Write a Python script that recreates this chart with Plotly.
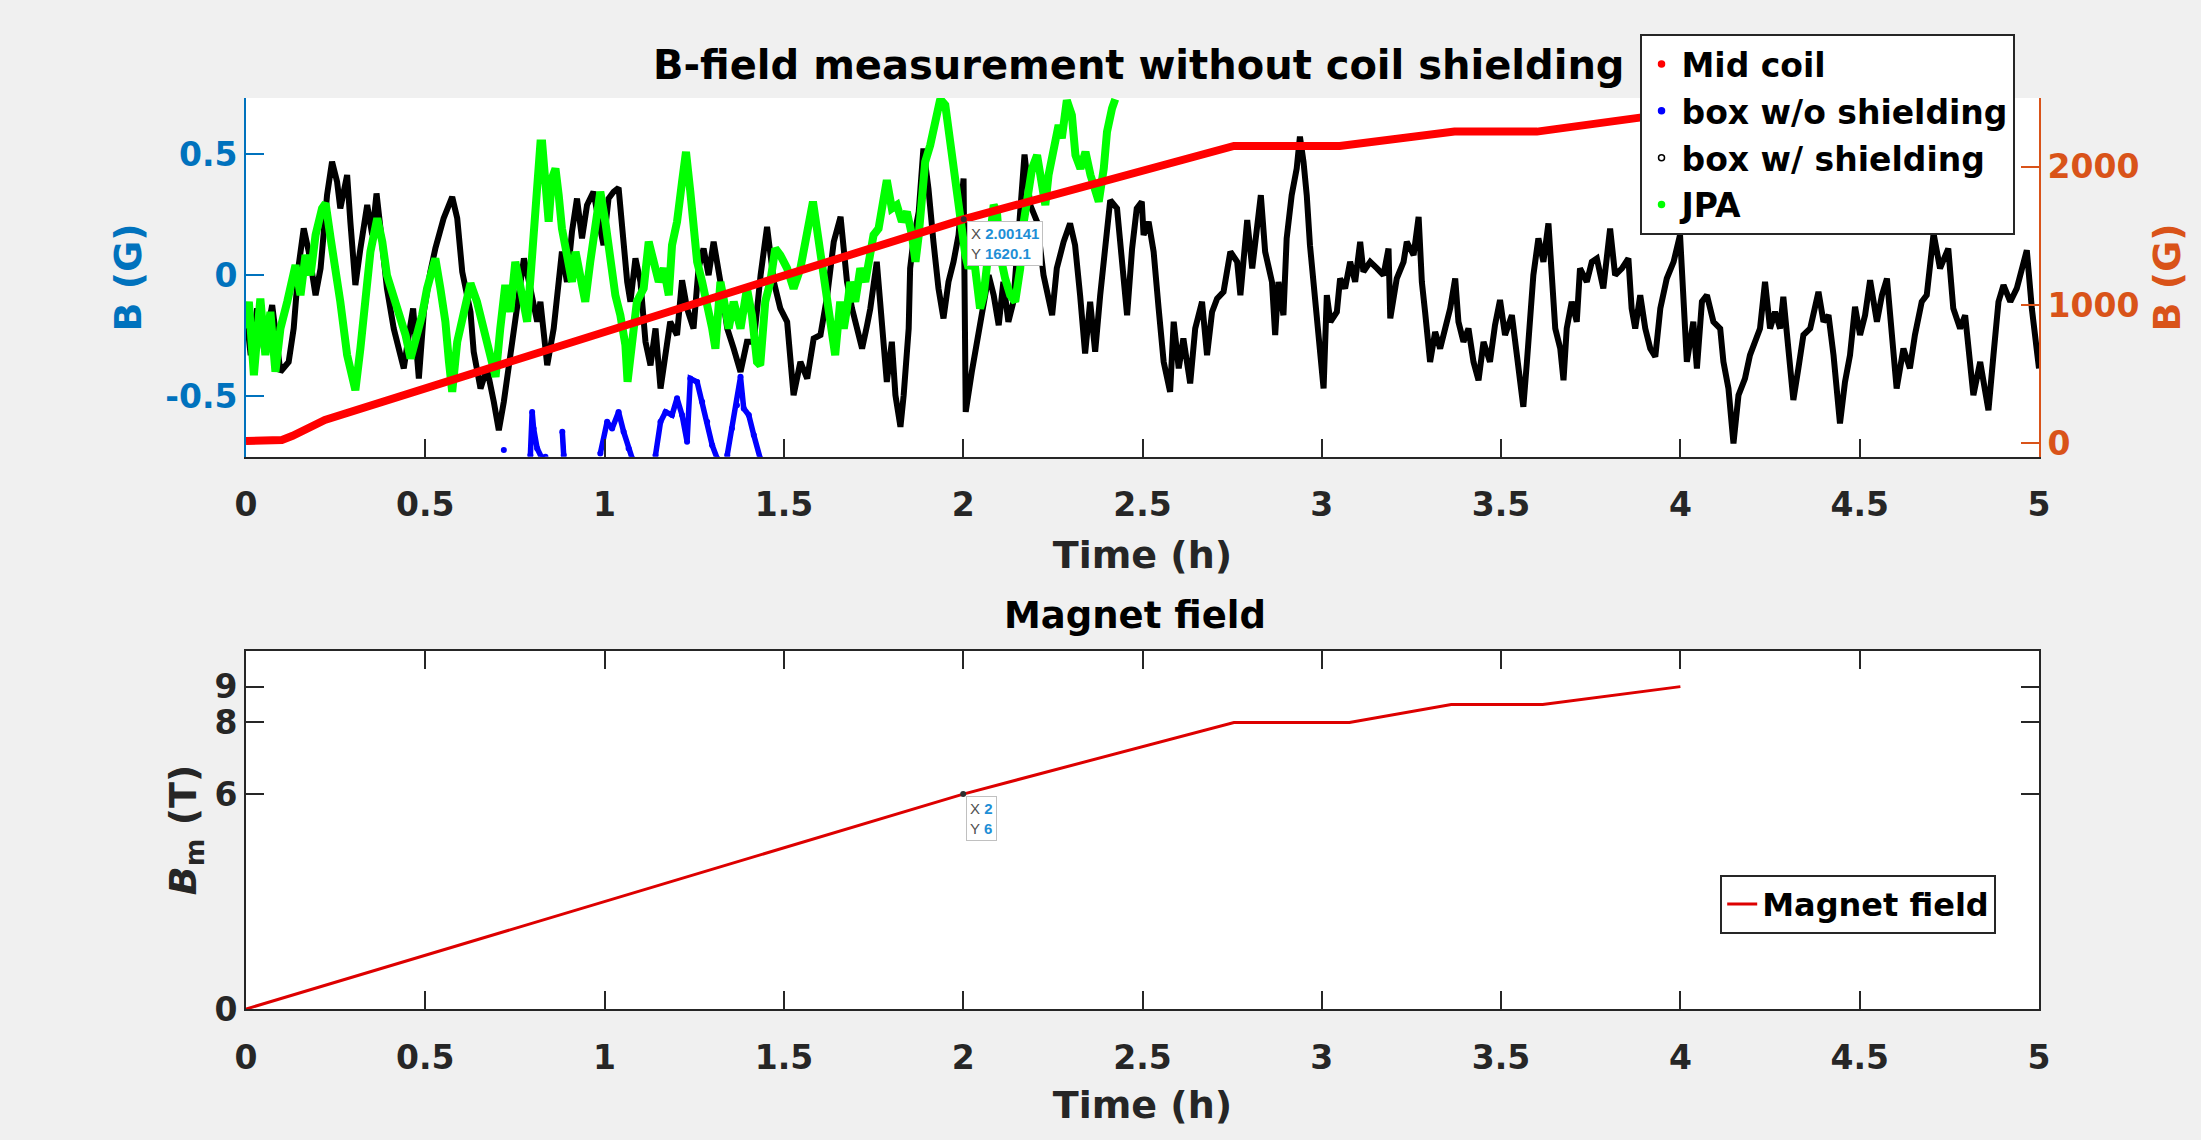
import plotly.graph_objects as go

# ---------------- data ----------------
# Time axis in hours, B in gauss (left axis), Mid coil in gauss (right axis)
black_t = [0.000, 0.013, 0.031, 0.050, 0.073, 0.096, 0.119, 0.133, 0.147, 0.161, 0.175, 0.194, 0.208, 0.226, 0.240,
           0.254, 0.263, 0.282, 0.291, 0.305, 0.319, 0.338, 0.352, 0.364, 0.375, 0.393, 0.412, 0.440, 0.454, 0.466,
           0.482, 0.496, 0.514, 0.528, 0.551, 0.575, 0.589, 0.603, 0.626, 0.635, 0.654, 0.672, 0.691, 0.705, 0.719,
           0.737, 0.756, 0.775, 0.793, 0.812, 0.821, 0.840, 0.858, 0.872, 0.881, 0.895, 0.909, 0.923, 0.937, 0.951,
           0.969, 0.984, 0.997, 1.011, 1.025, 1.039, 1.053, 1.063, 1.072, 1.086, 1.100, 1.114, 1.128, 1.142, 1.156,
           1.170, 1.183, 1.202, 1.216, 1.230, 1.248, 1.262, 1.276, 1.290, 1.304, 1.323, 1.342, 1.360, 1.379, 1.397,
           1.416, 1.435, 1.453, 1.472, 1.490, 1.509, 1.527, 1.546, 1.565, 1.583, 1.602, 1.621, 1.639, 1.658, 1.667,
           1.676, 1.690, 1.704, 1.718, 1.732, 1.741, 1.759, 1.773, 1.787, 1.801, 1.811, 1.825, 1.834, 1.848, 1.852,
           1.862, 1.876, 1.889, 1.903, 1.917, 1.931, 1.945, 1.959, 1.973, 1.987, 2.001, 2.007, 2.024, 2.043, 2.057,
           2.071, 2.085, 2.099, 2.112, 2.126, 2.140, 2.155, 2.171, 2.187, 2.206, 2.224, 2.238, 2.248, 2.261, 2.280,
           2.298, 2.312, 2.326, 2.340, 2.354, 2.368, 2.382, 2.396, 2.410, 2.429, 2.443, 2.457, 2.471, 2.484, 2.498,
           2.503, 2.517, 2.531, 2.545, 2.559, 2.577, 2.587, 2.601, 2.614, 2.633, 2.647, 2.666, 2.680, 2.694, 2.708,
           2.726, 2.745, 2.764, 2.773, 2.792, 2.806, 2.830, 2.842, 2.861, 2.870, 2.879, 2.893, 2.902, 2.916, 2.930,
           2.939, 2.949, 2.958, 2.967, 2.986, 3.000, 3.005, 3.014, 3.024, 3.042, 3.051, 3.065, 3.079, 3.093, 3.107,
           3.116, 3.135, 3.154, 3.172, 3.186, 3.191, 3.209, 3.228, 3.237, 3.256, 3.270, 3.279, 3.288, 3.302, 3.316,
           3.330, 3.344, 3.358, 3.372, 3.381, 3.395, 3.409, 3.423, 3.437, 3.451, 3.469, 3.483, 3.497, 3.511, 3.530,
           3.544, 3.562, 3.572, 3.581, 3.590, 3.604, 3.618, 3.632, 3.642, 3.651, 3.665, 3.674, 3.683, 3.697, 3.711,
           3.720, 3.739, 3.753, 3.767, 3.785, 3.804, 3.818, 3.837, 3.855, 3.864, 3.874, 3.888, 3.902, 3.916, 3.930,
           3.944, 3.962, 3.981, 3.999, 4.018, 4.036, 4.046, 4.060, 4.074, 4.092, 4.111, 4.120, 4.134, 4.148, 4.162,
           4.180, 4.194, 4.208, 4.222, 4.236, 4.250, 4.264, 4.278, 4.287, 4.301, 4.315, 4.329, 4.343, 4.362, 4.385,
           4.399, 4.413, 4.427, 4.445, 4.459, 4.473, 4.487, 4.501, 4.515, 4.529, 4.548, 4.562, 4.576, 4.589, 4.603,
           4.622, 4.640, 4.654, 4.673, 4.687, 4.706, 4.724, 4.747, 4.761, 4.780, 4.794, 4.817, 4.836, 4.859, 4.873,
           4.887, 4.901, 4.920, 4.938, 4.966, 4.980, 4.994, 5.000]
black_v = [-0.152, -0.331, -0.138, -0.304, -0.124, -0.400, -0.359, -0.221, 0.041, 0.193, 0.097, -0.083, 0.028, 0.331, 0.469,
           0.386, 0.276, 0.414, 0.221, -0.041, 0.110, 0.290, 0.166, 0.338, 0.193, -0.055, -0.221, -0.386, -0.248, -0.138,
           -0.428, -0.152, 0.014, 0.110, 0.235, 0.324, 0.235, 0.014, -0.152, -0.317, -0.469, -0.386, -0.524, -0.642, -0.524,
           -0.331, -0.138, 0.069, -0.055, -0.193, -0.110, -0.373, -0.221, -0.028, 0.097, -0.028, 0.179, 0.317, 0.152, 0.290,
           0.345, 0.221, 0.124, 0.317, 0.345, 0.361, 0.124, -0.028, -0.110, 0.069, -0.028, -0.276, -0.373, -0.221, -0.469,
           -0.317, -0.193, -0.248, -0.021, -0.138, -0.221, 0.028, 0.110, 0.000, 0.138, -0.028, -0.221, -0.304, -0.400, -0.276,
           -0.276, 0.000, 0.200, -0.028, -0.138, -0.193, -0.497, -0.359, -0.428, -0.262, -0.248, -0.083, 0.138, 0.241, 0.110,
           -0.028, -0.138, -0.221, -0.304, -0.207, -0.138, 0.055, -0.221, -0.442, -0.276, -0.497, -0.628, -0.497, -0.221, 0.028,
           0.152, 0.262, 0.524, 0.359, 0.138, -0.055, -0.179, -0.028, 0.055, 0.166, 0.400, -0.566, -0.400, -0.248, -0.110,
           0.000, -0.083, -0.207, -0.028, -0.193, -0.110, 0.166, 0.499, 0.290, 0.221, 0.000, -0.083, -0.166, 0.028, 0.138,
           0.214, 0.124, -0.083, -0.324, -0.110, -0.317, -0.083, 0.138, 0.310, 0.276, 0.055, -0.166, 0.110, 0.276, 0.304,
           0.166, 0.221, 0.097, -0.138, -0.359, -0.483, -0.193, -0.386, -0.262, -0.448, -0.221, -0.110, -0.331, -0.152, -0.097,
           -0.069, 0.097, 0.055, -0.083, 0.228, 0.028, 0.331, 0.097, -0.028, -0.248, -0.028, -0.166, 0.152, 0.331, 0.441,
           0.573, 0.469, 0.331, 0.124, -0.152, -0.373, -0.469, -0.083, -0.193, -0.152, -0.014, -0.055, 0.055, -0.028, 0.138,
           0.014, 0.055, 0.028, 0.000, 0.110, -0.179, -0.014, 0.055, 0.138, 0.083, 0.241, -0.028, -0.152, -0.359, -0.235,
           -0.304, -0.221, -0.138, -0.014, -0.193, -0.276, -0.221, -0.359, -0.435, -0.276, -0.359, -0.207, -0.103, -0.248, -0.166,
           -0.331, -0.545, -0.359, -0.138, 0.000, 0.152, 0.055, 0.214, -0.055, -0.221, -0.304, -0.435, -0.221, -0.110, -0.193,
           0.028, -0.028, 0.055, 0.069, -0.055, 0.193, 0.000, 0.028, 0.069, -0.138, -0.221, -0.083, -0.221, -0.304, -0.338,
           -0.138, -0.014, 0.055, 0.166, -0.359, -0.193, -0.386, -0.110, -0.083, -0.193, -0.221, -0.359, -0.469, -0.697, -0.497,
           -0.428, -0.331, -0.276, -0.221, -0.028, -0.221, -0.152, -0.221, -0.090, -0.304, -0.517, -0.386, -0.248, -0.221, -0.069,
           -0.193, -0.166, -0.331, -0.614, -0.442, -0.331, -0.131, -0.248, -0.166, -0.021, -0.193, -0.083, -0.014, -0.221, -0.469,
           -0.304, -0.386, -0.248, -0.110, -0.083, 0.172, 0.028, 0.110, -0.138, -0.221, -0.166, -0.497, -0.359, -0.559, -0.331,
           -0.110, -0.041, -0.110, -0.055, 0.103, -0.138, -0.304, -0.386]

green_t = [0.000, 0.008, 0.022, 0.040, 0.054, 0.068, 0.082, 0.096, 0.115, 0.129, 0.138, 0.152, 0.166, 0.180, 0.194,
           0.212, 0.222, 0.236, 0.250, 0.263, 0.282, 0.296, 0.305, 0.319, 0.333, 0.347, 0.366, 0.380, 0.393, 0.412,
           0.426, 0.445, 0.459, 0.477, 0.491, 0.505, 0.519, 0.528, 0.542, 0.556, 0.566, 0.575, 0.589, 0.607, 0.626,
           0.644, 0.663, 0.682, 0.696, 0.709, 0.723, 0.737, 0.751, 0.770, 0.784, 0.798, 0.807, 0.821, 0.826, 0.835,
           0.844, 0.853, 0.863, 0.872, 0.881, 0.895, 0.909, 0.919, 0.933, 0.946, 0.960, 0.974, 0.988, 1.002, 1.016,
           1.030, 1.044, 1.058, 1.064, 1.077, 1.090, 1.109, 1.123, 1.137, 1.151, 1.165, 1.179, 1.188, 1.202, 1.216,
           1.227, 1.239, 1.248, 1.258, 1.272, 1.286, 1.300, 1.309, 1.323, 1.337, 1.346, 1.360, 1.379, 1.397, 1.411,
           1.425, 1.434, 1.448, 1.462, 1.476, 1.490, 1.509, 1.527, 1.546, 1.560, 1.574, 1.581, 1.592, 1.606, 1.620,
           1.634, 1.643, 1.657, 1.667, 1.676, 1.685, 1.699, 1.713, 1.727, 1.741, 1.750, 1.764, 1.774, 1.787, 1.801,
           1.815, 1.829, 1.843, 1.857, 1.867, 1.876, 1.885, 1.894, 1.908, 1.922, 1.936, 1.950, 1.959, 1.973, 1.987,
           1.997, 2.006, 2.015, 2.029, 2.038, 2.047, 2.057, 2.071, 2.085, 2.094, 2.103, 2.117, 2.131, 2.145, 2.159,
           2.169, 2.178, 2.192, 2.206, 2.220, 2.229, 2.238, 2.252, 2.266, 2.275, 2.289, 2.303, 2.313, 2.327, 2.341,
           2.355, 2.369, 2.378, 2.392, 2.401, 2.415, 2.424]
green_v = [-0.221, -0.110, -0.414, -0.097, -0.331, -0.152, -0.400, -0.221, -0.110, -0.028, 0.041, -0.083, 0.083, 0.000, 0.166,
           0.276, 0.297, 0.152, 0.028, -0.110, -0.331, -0.428, -0.476, -0.304, -0.083, 0.097, 0.235, 0.138, 0.000, -0.083,
           -0.166, -0.248, -0.345, -0.248, -0.166, -0.055, 0.041, 0.069, -0.055, -0.193, -0.359, -0.483, -0.276, -0.152, -0.034,
           -0.110, -0.221, -0.359, -0.421, -0.221, -0.041, -0.152, 0.055, -0.083, -0.193, 0.083, 0.290, 0.545, 0.545, 0.359,
           0.221, 0.400, 0.441, 0.331, 0.193, 0.083, -0.028, 0.097, 0.000, -0.110, 0.055, 0.193, 0.345, 0.221, 0.055,
           -0.083, -0.166, -0.290, -0.441, -0.248, -0.110, -0.055, 0.138, 0.055, -0.028, 0.028, -0.083, 0.124, 0.221, 0.386,
           0.510, 0.345, 0.166, 0.055, -0.028, -0.110, -0.221, -0.304, -0.028, -0.138, -0.221, -0.110, -0.221, -0.055, -0.166,
           -0.359, -0.373, -0.110, -0.028, 0.110, 0.083, 0.028, -0.055, 0.028, 0.138, 0.262, 0.304, 0.193, 0.055, -0.083,
           -0.221, -0.331, -0.110, -0.221, -0.138, -0.028, -0.110, 0.028, -0.028, 0.083, 0.166, 0.193, 0.290, 0.393, 0.276,
           0.290, 0.221, 0.262, 0.166, 0.055, 0.166, 0.331, 0.469, 0.538, 0.635, 0.728, 0.704, 0.593, 0.469, 0.304,
           0.166, 0.083, 0.028, 0.083, -0.028, -0.138, -0.083, 0.083, 0.290, 0.262, 0.083, -0.014, -0.083, -0.110, 0.028,
           0.221, 0.331, 0.441, 0.497, 0.359, 0.290, 0.414, 0.524, 0.621, 0.566, 0.724, 0.662, 0.497, 0.441, 0.510,
           0.414, 0.345, 0.304, 0.441, 0.593, 0.690, 0.728]

blue_t = [0.719, None, 0.793, 0.798, 0.802, 0.812, 0.826, 0.835, None, 0.882, 0.886, None,
          0.988, 1.007, 1.021, 1.039, 1.053, 1.067, 1.077, None,
          1.142, 1.156, 1.170, 1.188, 1.202, 1.216, 1.230, 1.239, 1.258, 1.272, 1.286, 1.300, 1.314, None,
          1.342, 1.355, 1.369, 1.379, 1.388, 1.402, 1.416, 1.434]
blue_v = [-0.724, None, -0.745, -0.566, -0.635, -0.717, -0.760, -0.752, None, -0.648, -0.745, None,
          -0.738, -0.607, -0.635, -0.566, -0.648, -0.717, -0.759, None,
          -0.745, -0.607, -0.566, -0.579, -0.510, -0.579, -0.690, -0.428, -0.442, -0.524, -0.607, -0.704, -0.759, None,
          -0.745, -0.635, -0.538, -0.421, -0.552, -0.579, -0.662, -0.759]

mid_coil_t = [0.00, 0.08, 0.10, 0.13, 0.17, 0.22, 2.00, 2.755, 3.05, 3.37, 3.60, 4.00]
mid_coil_g = [18, 18, 25, 55, 100, 170, 1620, 2150, 2150, 2254, 2254, 2395]

magnet_t = [0.0, 2.0, 2.755, 3.077, 3.361, 3.616, 4.0]
magnet_T = [0.0, 6.0, 8.0, 8.0, 8.5, 8.5, 9.0]

tip_top = (2.00141, 1620.1)
tip_bottom = (2, 6)

x_ticks = [0, 0.5, 1, 1.5, 2, 2.5, 3, 3.5, 4, 4.5, 5]
x_ticktext = ['0', '0.5', '1', '1.5', '2', '2.5', '3', '3.5', '4', '4.5', '5']
left_ticks = [-0.5, 0, 0.5]
left_ticktext = ['-0.5', '0', '0.5']
right_ticks = [0, 1000, 2000]
right_ticktext = ['0', '1000', '2000']
bottom_y_ticks = [0, 6, 8, 9]
bottom_y_ticktext = ['0', '6', '8', '9']

# ---------------- styling ----------------
BLUE_AX = '#0072BD'
ORANGE_AX = '#D95319'
DARK = '#262626'
FONT = 'DejaVu Sans'
TIPVAL = '#1f8fd6'


def bfont(size, color=DARK):
    return dict(family=FONT, size=size, color=color, weight='bold')


fig = go.Figure()

# data traces (top subplot)
fig.add_trace(go.Scatter(x=blue_t, y=blue_v, mode='lines+markers', xaxis='x', yaxis='y',
                         line=dict(color='#0000ff', width=5.5), marker=dict(color='#0000ff', size=6),
                         showlegend=False, hoverinfo='skip'))
fig.add_trace(go.Scatter(x=black_t, y=black_v, mode='lines', xaxis='x', yaxis='y',
                         line=dict(color='#000000', width=6),
                         showlegend=False, hoverinfo='skip'))
fig.add_trace(go.Scatter(x=green_t, y=green_v, mode='lines', xaxis='x', yaxis='y',
                         line=dict(color='#00ff00', width=8),
                         showlegend=False, hoverinfo='skip'))
fig.add_trace(go.Scatter(x=mid_coil_t, y=mid_coil_g, mode='lines', xaxis='x', yaxis='y2',
                         line=dict(color='#ff0000', width=8), showlegend=False, hoverinfo='skip'))
fig.add_trace(go.Scatter(x=[tip_top[0]], y=[tip_top[1]], mode='markers', xaxis='x', yaxis='y2',
                         marker=dict(color='#303030', size=6), showlegend=False, hoverinfo='skip'))

# legend entries (dot markers, as in the original)
legend_items = [('Mid coil', '#ff0000', 'circle'), ('box w/o shielding', '#0000ff', 'circle'),
                ('box w/ shielding', '#000000', 'circle-open'), ('JPA', '#00ff00', 'circle')]
for i, (name, col, sym) in enumerate(legend_items):
    fig.add_trace(go.Scatter(x=[None], y=[None], mode='markers', xaxis='x', yaxis='y', name=name,
                             legendgroup=f'g{i}', legend='legend',
                             marker=dict(color=col, size=6, symbol=sym, line=dict(width=1.5, color=col))))

# bottom subplot
fig.add_trace(go.Scatter(x=magnet_t, y=magnet_T, mode='lines', xaxis='x2', yaxis='y3', name='Magnet field',
                         line=dict(color='#dd0000', width=3), legend='legend2', hoverinfo='skip'))
fig.add_trace(go.Scatter(x=[tip_bottom[0]], y=[tip_bottom[1]], mode='markers', xaxis='x2', yaxis='y3',
                         marker=dict(color='#303030', size=6), showlegend=False, hoverinfo='skip'))

PLOT_TOP_DOMAIN = [0.6061, 1.0]
PLOT_BOT_DOMAIN = [0.0, 0.3932]

common_x = dict(range=[0, 5], tickvals=x_ticks, ticktext=x_ticktext, ticks='inside', ticklen=18,
                tickwidth=2, tickcolor=DARK, showline=True, linecolor=DARK, linewidth=2, showgrid=False,
                zeroline=False, tickfont=bfont(33), automargin=False, ticklabelstandoff=18)

fig.update_layout(
    width=2201, height=1140,
    margin=dict(l=245.5, r=162.2, t=98, b=131.3, pad=0),
    paper_bgcolor='#f0f0f0', plot_bgcolor='white',
    font=dict(family=FONT, size=33, color=DARK),
    hovermode=False,
    xaxis=dict(domain=[0, 1], anchor='y', **common_x,
               title=dict(text='Time (h)', font=bfont(38), standoff=18)),
    yaxis=dict(domain=PLOT_TOP_DOMAIN, anchor='x', range=[-0.752, 0.733], tickvals=left_ticks,
               ticktext=left_ticktext, ticks='inside', ticklen=18, tickwidth=2, tickcolor=BLUE_AX,
               showline=True, linecolor=BLUE_AX, linewidth=2, showgrid=False, zeroline=False,
               tickfont=bfont(33, BLUE_AX), automargin=False,
               title=dict(text='B (G)', font=bfont(38, BLUE_AX), standoff=12)),
    yaxis2=dict(overlaying='y', side='right', anchor='x', range=[-97, 2497], tickvals=right_ticks,
                ticktext=right_ticktext, ticks='inside', ticklen=18, tickwidth=2, tickcolor=ORANGE_AX,
                showline=True, linecolor=ORANGE_AX, linewidth=2, showgrid=False, zeroline=False,
                tickfont=bfont(33, ORANGE_AX), automargin=False,
                title=dict(text='B (G)', font=bfont(38, ORANGE_AX), standoff=15)),
    xaxis2=dict(domain=[0, 1], anchor='y3', mirror='ticks', **common_x,
                title=dict(text='Time (h)', font=bfont(38), standoff=16)),
    yaxis3=dict(domain=PLOT_BOT_DOMAIN, anchor='x2', range=[0, 10], tickvals=bottom_y_ticks,
                ticktext=bottom_y_ticktext, ticks='inside', ticklen=18, tickwidth=2, tickcolor=DARK,
                showline=True, linecolor=DARK, linewidth=2, mirror='ticks', showgrid=False, zeroline=False,
                tickfont=bfont(33), automargin=False,
                title=dict(text='<i>B</i><sub>m</sub> (T)', font=bfont(38), standoff=6)),
    legend=dict(x=0.7772, y=1.0703, xanchor='left', yanchor='top', bgcolor='white', bordercolor=DARK,
                borderwidth=2, font=bfont(33, '#000000'), tracegroupgap=1, traceorder='grouped'),
    legend2=dict(x=0.8222, y=0.1475, xanchor='left', yanchor='top', bgcolor='white', bordercolor=DARK,
                 borderwidth=2, font=bfont(32, '#000000')),
    annotations=[
        dict(text='B-field measurement without coil shielding', xref='paper', yref='paper', x=0.498, y=1.0362,
             xanchor='center', yanchor='middle', showarrow=False, font=bfont(40, '#000000')),
        dict(text='Magnet field', xref='paper', yref='paper', x=0.496, y=0.4323,
             xanchor='center', yanchor='middle', showarrow=False, font=bfont(37, '#000000')),
        dict(text=f"X <span style='color:{TIPVAL}'><b>{tip_top[0]}</b></span><br>"
                  f"Y <span style='color:{TIPVAL}'><b>{tip_top[1]}</b></span>",
             xref='x', yref='y2', x=tip_top[0], y=tip_top[1], xanchor='left', yanchor='top',
             xshift=3, yshift=-2, showarrow=False, align='left', bgcolor='white', bordercolor='#c0c0c0',
             borderwidth=1, borderpad=3,
             font=dict(family='Liberation Sans', size=15, color='#505050', weight='normal')),
        dict(text=f"X <span style='color:{TIPVAL}'><b>{tip_bottom[0]}</b></span><br>"
                  f"Y <span style='color:{TIPVAL}'><b>{tip_bottom[1]}</b></span>",
             xref='x2', yref='y3', x=tip_bottom[0], y=tip_bottom[1], xanchor='left', yanchor='top',
             xshift=3, yshift=-2, showarrow=False, align='left', bgcolor='white', bordercolor='#c0c0c0',
             borderwidth=1, borderpad=3,
             font=dict(family='Liberation Sans', size=15, color='#505050', weight='normal')),
    ],
)

fig.write_html('out.html')
